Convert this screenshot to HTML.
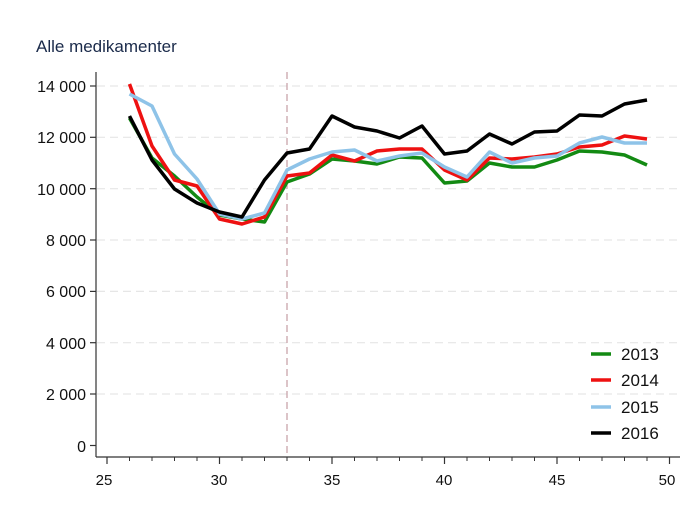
<!DOCTYPE html>
<html><head><style>body{margin:0;background:#fff}svg{display:block}</style></head><body>
<svg width="699" height="509" xmlns="http://www.w3.org/2000/svg" font-family="Liberation Sans, Arial, sans-serif">
<rect width="699" height="509" fill="#fff"/>
<text x="36" y="52" font-size="17" fill="#1a2a4a">Alle medikamenter</text>
<g stroke="#e6e6e6" stroke-width="1.2" stroke-dasharray="8,5">
<line x1="97" x2="680" y1="86" y2="86"/><line x1="97" x2="680" y1="137.3" y2="137.3"/><line x1="97" x2="680" y1="188.7" y2="188.7"/><line x1="97" x2="680" y1="240" y2="240"/><line x1="97" x2="680" y1="291.4" y2="291.4"/><line x1="97" x2="680" y1="342.7" y2="342.7"/><line x1="97" x2="680" y1="394" y2="394"/>
</g>
<line x1="287" x2="287" y1="72" y2="457" stroke="#c9a4ab" stroke-width="1.3" stroke-dasharray="7,4"/>
<g stroke="#333" stroke-width="1.2">
<line x1="96" x2="96" y1="72" y2="457"/><line x1="96" x2="680" y1="457" y2="457"/>
<line x1="90" x2="96" y1="86" y2="86"/><line x1="90" x2="96" y1="137.3" y2="137.3"/><line x1="90" x2="96" y1="188.7" y2="188.7"/><line x1="90" x2="96" y1="240" y2="240"/><line x1="90" x2="96" y1="291.4" y2="291.4"/><line x1="90" x2="96" y1="342.7" y2="342.7"/><line x1="90" x2="96" y1="394" y2="394"/><line x1="90" x2="96" y1="445.5" y2="445.5"/>
<line x1="107" x2="107" y1="457" y2="464"/><line x1="219.5" x2="219.5" y1="457" y2="464"/><line x1="332" x2="332" y1="457" y2="464"/><line x1="444.5" x2="444.5" y1="457" y2="464"/><line x1="557" x2="557" y1="457" y2="464"/><line x1="669.5" x2="669.5" y1="457" y2="464"/>
</g>
<g stroke="#333" stroke-width="1">
<path d="M129.5 457v4M152 457v4M174.5 457v4M197 457v4M242 457v4M264.5 457v4M287 457v4M309.5 457v4M354.5 457v4M377 457v4M399.5 457v4M422 457v4M467 457v4M489.5 457v4M512 457v4M534.5 457v4M579.5 457v4M602 457v4M624.5 457v4M647 457v4"/>
</g>
<g font-size="16" fill="#111" text-anchor="end">
<text x="86" y="92">14 000</text><text x="86" y="143">12 000</text><text x="86" y="195">10 000</text><text x="86" y="246">8 000</text><text x="86" y="297">6 000</text><text x="86" y="349">4 000</text><text x="86" y="400">2 000</text><text x="86" y="452">0</text>
</g>
<g font-size="15" fill="#111" text-anchor="middle">
<text x="104" y="485">25</text><text x="219" y="485">30</text><text x="332" y="485">35</text><text x="444" y="485">40</text><text x="557" y="485">45</text><text x="667" y="485">50</text>
</g>
<g fill="none" stroke-width="3.5" stroke-linejoin="round">
<polyline stroke="#138a13" points="129.5,118 152,158 174.5,176 197,197 219.5,215 242,219 264.5,222 287,182 309.5,174 332,159 354.5,161 377,164 399.5,157 422,158 444.5,183 467,181 489.5,163 512,167 534.5,167 557,160 579.5,151 602,152 624.5,155 647,165"/>
<polyline stroke="#ee1111" points="129.5,84 152,146 174.5,180 197,186 219.5,219 242,224 264.5,217 287,176 309.5,173 332,155 354.5,161 377,151 399.5,149 422,149 444.5,170 467,180 489.5,158 512,159 534.5,157 557,154 579.5,147 602,145 624.5,136 647,139"/>
<polyline stroke="#8ec3e8" points="129.5,94 152,106 174.5,154 197,179 219.5,214 242,219 264.5,213 287,170 309.5,159 332,152 354.5,150 377,161 399.5,156 422,153 444.5,167 467,177 489.5,152 512,163 534.5,158 557,156 579.5,143 602,137 624.5,143 647,143"/>
<polyline stroke="#000" points="129.5,116 152,160 174.5,189 197,203 219.5,212 242,217 264.5,180 287,153 309.5,149 332,116 354.5,127 377,131 399.5,138 422,126 444.5,154 467,151 489.5,134 512,144 534.5,132 557,131 579.5,115 602,116 624.5,104 647,100"/>
</g>
<g stroke-width="3.5">
<line x1="591" x2="611" y1="354" y2="354" stroke="#138a13"/>
<line x1="591" x2="611" y1="380" y2="380" stroke="#ee1111"/>
<line x1="591" x2="611" y1="407" y2="407" stroke="#8ec3e8"/>
<line x1="591" x2="611" y1="433" y2="433" stroke="#000"/>
</g>
<g font-size="17" fill="#111">
<text x="621" y="360">2013</text><text x="621" y="386">2014</text><text x="621" y="413">2015</text><text x="621" y="439">2016</text>
</g>
</svg>
</body></html>
